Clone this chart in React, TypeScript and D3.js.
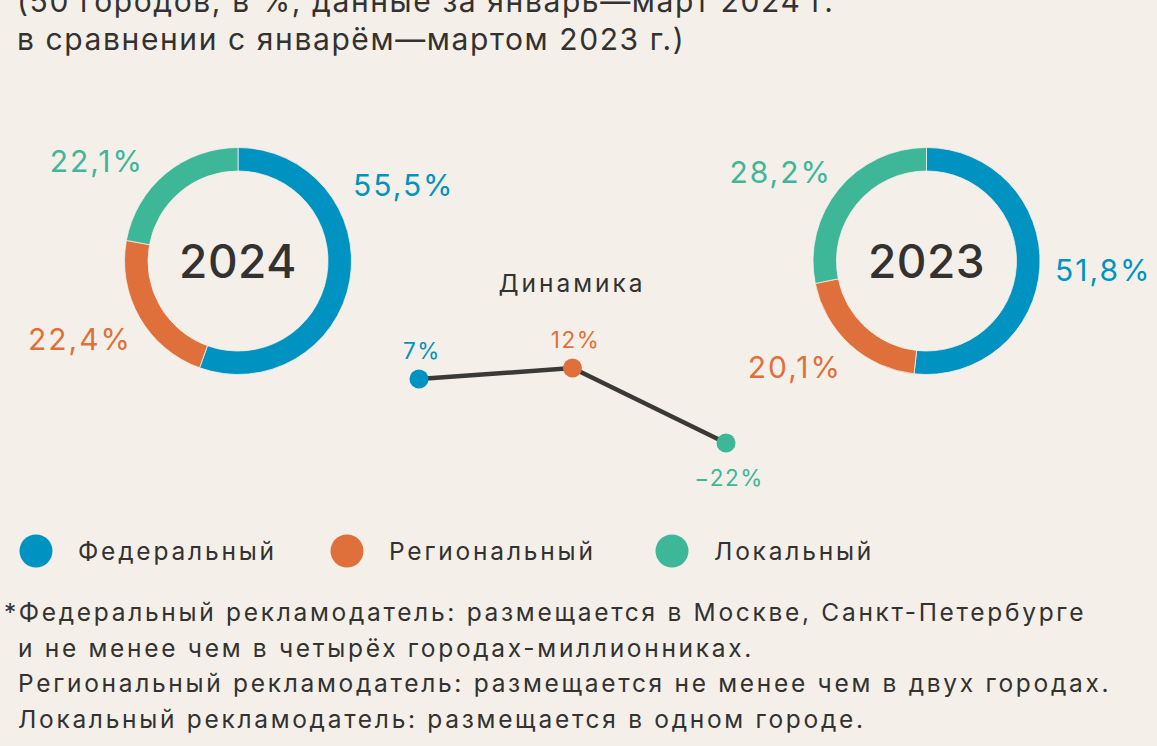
import React from "react";
import * as d3 from "d3";

const categories = ["Федеральный", "Региональный", "Локальный"];
const colors = ["#0093C1", "#E0703B", "#3EB698"];
const share2024 = [55.5, 22.4, 22.1];
const share2023 = [51.8, 20.1, 28.2];
const dynamics = [7, 12, -22];
const titleLines = [
  "(50 городов, в %, данные за январь—март 2024 г.",
  "в сравнении с январём—мартом 2023 г.)",
];
const footnoteLines = [
  "*Федеральный рекламодатель: размещается в Москве, Санкт-Петербурге",
  "и не менее чем в четырёх городах-миллионниках.",
  "Региональный рекламодатель: размещается не менее чем в двух городах.",
  "Локальный рекламодатель: размещается в одном городе.",
];

const W = 1157;
const H = 746;
const BG = "#F4F0E9";
const DARK = "#333231";
const FONT = "Inter, 'Noto Sans', sans-serif";

const fmt = (v: number) => String(v).replace(".", ",") + "%";
const fmtDyn = (v: number) => (v < 0 ? "−" + Math.abs(v) : String(v)) + "%";

type LabelPos = { x: number; y: number; anchor: string };

function Donut({
  cx,
  cy,
  values,
  year,
  labels,
}: {
  cx: number;
  cy: number;
  values: number[];
  year: string;
  labels: LabelPos[];
}) {
  const pie = d3.pie<number>().sort(null).value((d) => d)(values);
  const arc = d3.arc<d3.PieArcDatum<number>>().innerRadius(90).outerRadius(113.5);
  return (
    <g>
      <g transform={`translate(${cx},${cy})`}>
        {pie.map((p, i) => (
          <path key={i} d={arc(p) || ""} fill={colors[i]} stroke={BG} strokeWidth={0.8} />
        ))}
        <text
          x={0}
          y={17}
          textAnchor="middle"
          fontSize={46}
          fontWeight={500}
          fill={DARK}
          fontFamily={FONT}
          letterSpacing={0.5}
        >
          {year}
        </text>
      </g>
      {values.map((v, i) => (
        <text
          key={i}
          x={labels[i].x}
          y={labels[i].y}
          textAnchor={labels[i].anchor}
          fontSize={30}
          fill={colors[i]}
          fontFamily={FONT}
          letterSpacing={2}
        >
          {fmt(v)}
        </text>
      ))}
    </g>
  );
}

export default function App() {
  const x = d3.scalePoint<number>().domain([0, 1, 2]).range([419, 726]);
  const y = d3.scaleLinear().domain([-22, 12]).range([443, 368]);
  const line = d3
    .line<number>()
    .x((_, i) => x(i) as number)
    .y((d) => y(d));

  return (
    <svg
      width={W}
      height={H}
      style={{ position: "absolute", left: 0, top: 0, background: BG }}
      fontFamily={FONT}
    >
      <rect width={W} height={H} fill={BG} />
      {titleLines.map((t, i) => (
        <text
          key={i}
          x={17}
          y={12 + i * 38}
          fontSize={30}
          fill={DARK}
          fontFamily={FONT}
          letterSpacing={1.6}
        >
          {t}
        </text>
      ))}

      <Donut
        cx={238}
        cy={261}
        values={share2024}
        year="2024"
        labels={[
          { x: 353, y: 196, anchor: "start" },
          { x: 132, y: 350, anchor: "end" },
          { x: 144, y: 172, anchor: "end" },
        ]}
      />
      <Donut
        cx={926.5}
        cy={261}
        values={share2023}
        year="2023"
        labels={[
          { x: 1055, y: 281, anchor: "start" },
          { x: 842, y: 378, anchor: "end" },
          { x: 832, y: 183, anchor: "end" },
        ]}
      />

      <text
        x={572}
        y={292}
        textAnchor="middle"
        fontSize={24.5}
        fill={DARK}
        fontFamily={FONT}
        letterSpacing={3}
      >
        Динамика
      </text>
      <path d={line(dynamics) || ""} fill="none" stroke="#3A3937" strokeWidth={4.5} />
      {dynamics.map((v, i) => (
        <g key={i}>
          <circle cx={x(i)} cy={y(v)} r={9.5} fill={colors[i]} />
          <text
            x={(x(i) as number) + 3}
            y={v < 0 ? y(v) + 43 : y(v) - 20}
            textAnchor="middle"
            fontSize={22.5}
            fill={colors[i]}
            fontFamily={FONT}
            letterSpacing={1.5}
          >
            {fmtDyn(v)}
          </text>
        </g>
      ))}

      {categories.map((c, i) => {
        const lx = [36, 347, 672][i];
        return (
          <g key={c}>
            <circle cx={lx} cy={551} r={16.5} fill={colors[i]} />
            <text
              x={lx + 42}
              y={560}
              fontSize={24.5}
              fill={DARK}
              fontFamily={FONT}
              letterSpacing={2.8}
            >
              {c}
            </text>
          </g>
        );
      })}

      {footnoteLines.map((t, i) => (
        <text
          key={i}
          x={i === 0 ? 4 : 18}
          y={621 + i * 35.5}
          fontSize={24.5}
          fill={DARK}
          fontFamily={FONT}
          letterSpacing={2.7}
        >
          {t}
        </text>
      ))}
    </svg>
  );
}
